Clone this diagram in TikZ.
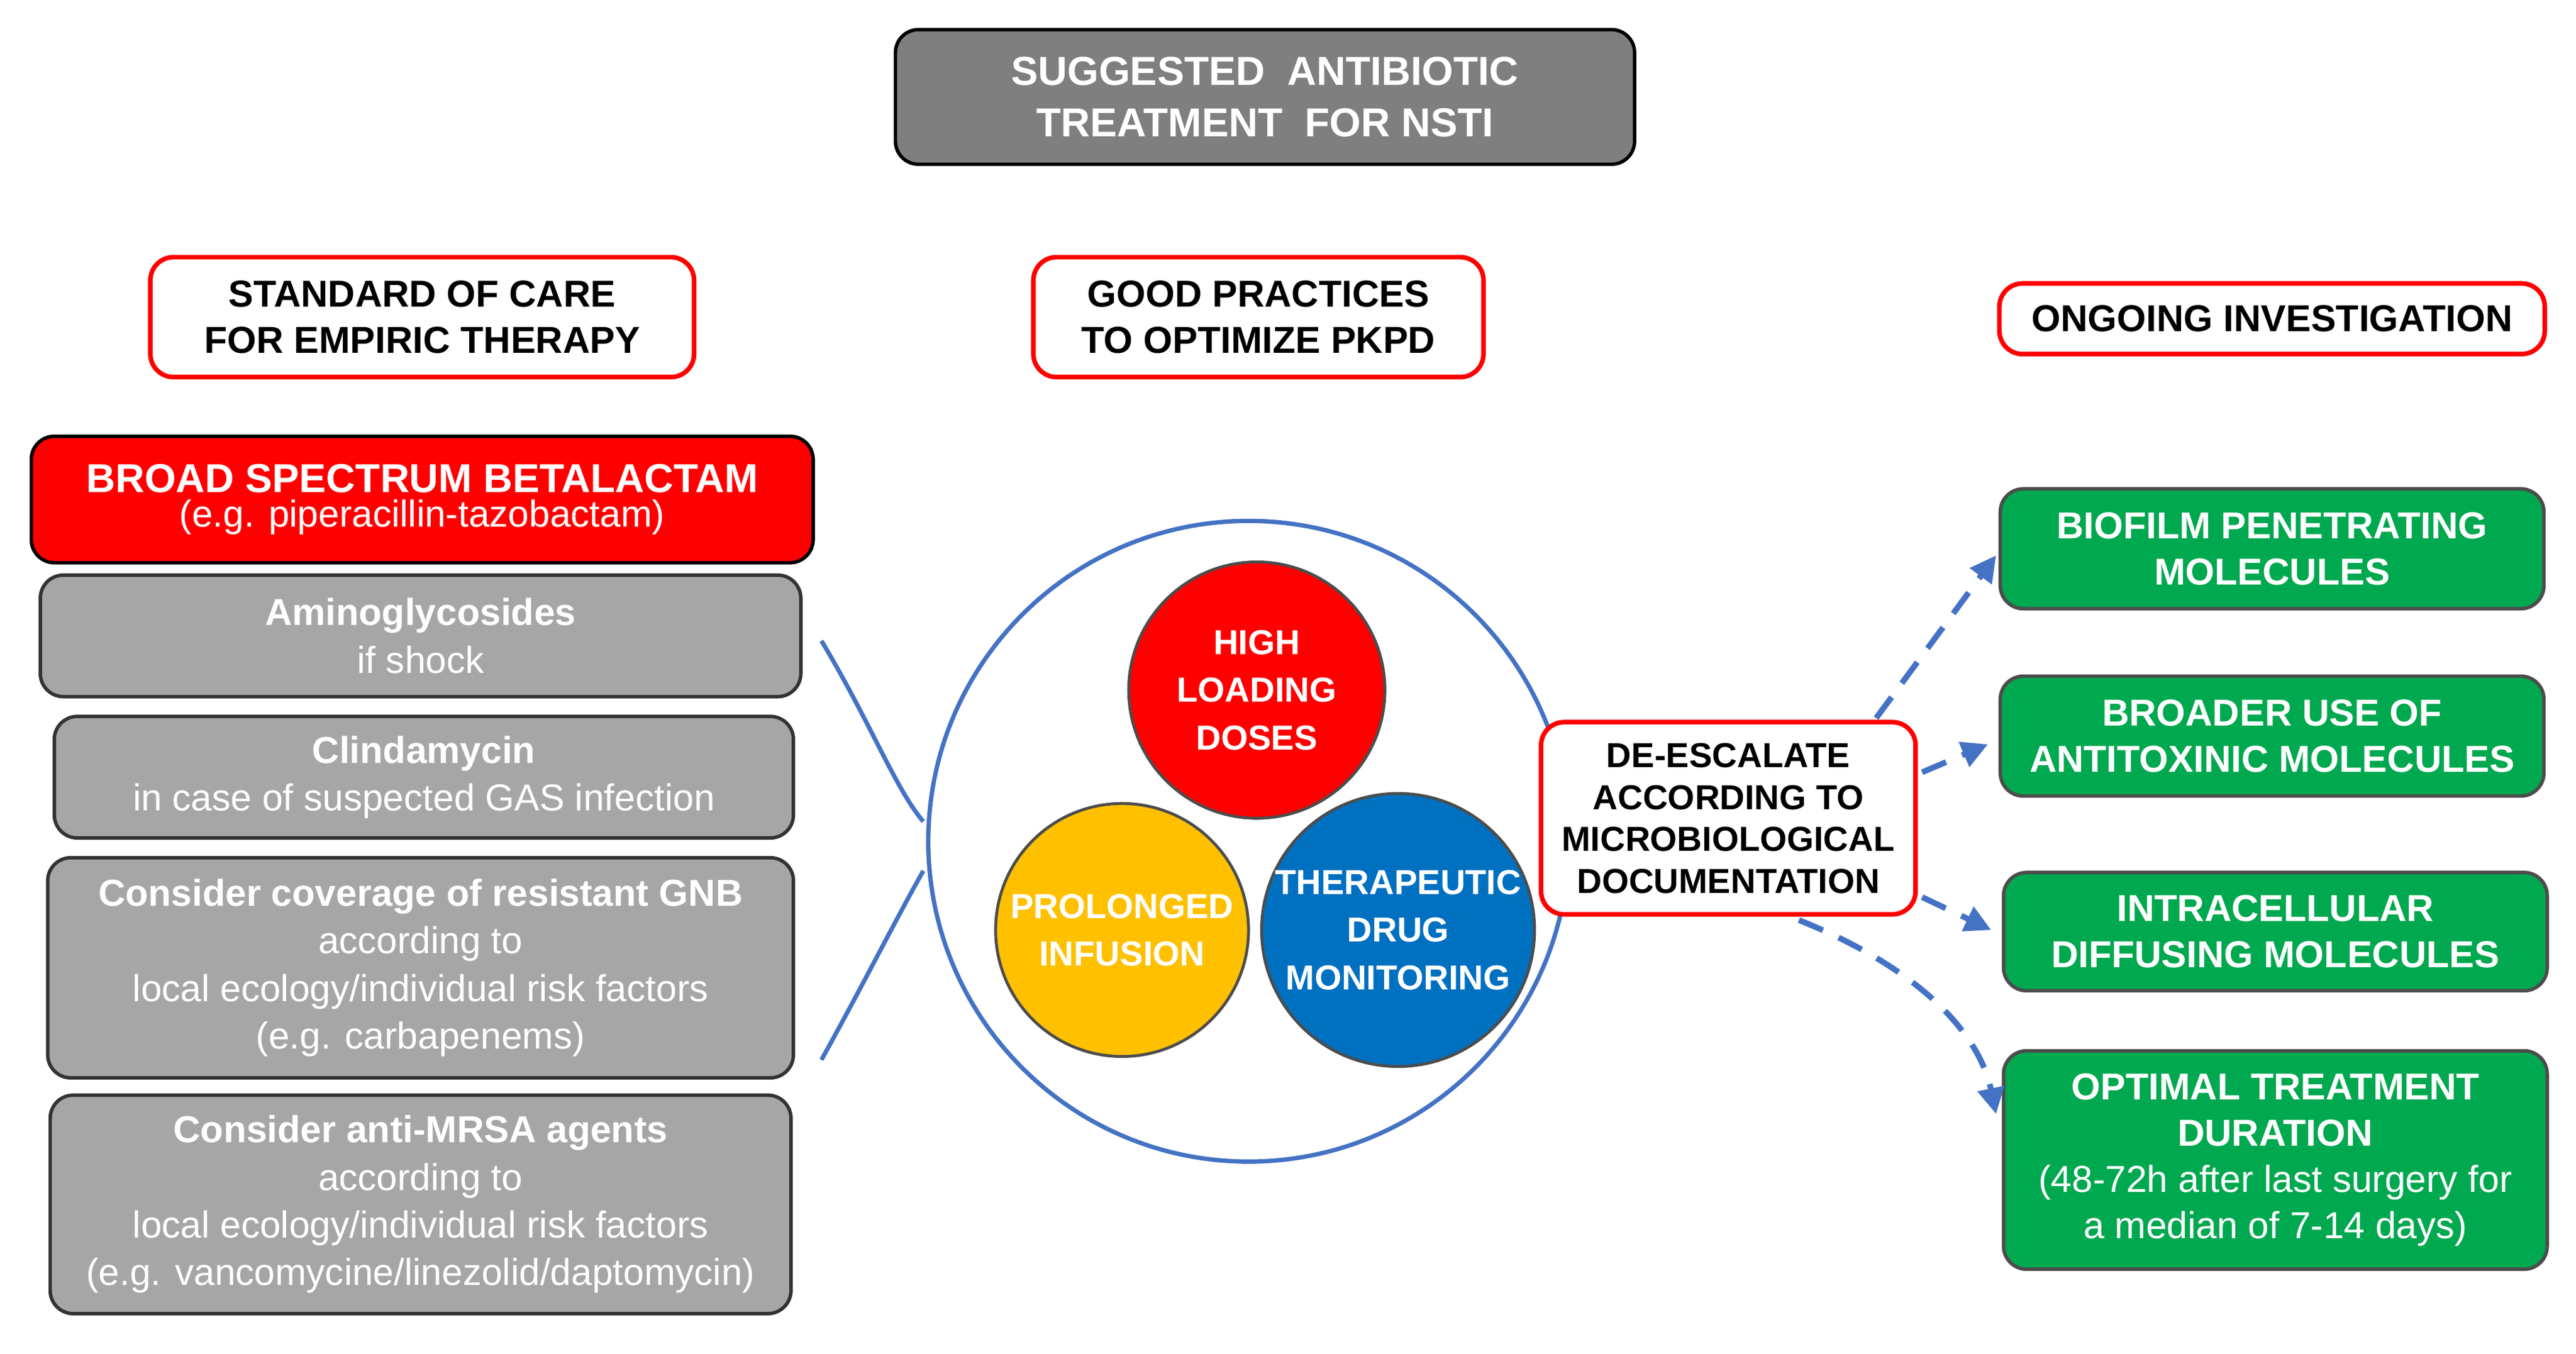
\documentclass[tikz,border=0pt]{standalone}
\usepackage{fontspec}
\setmainfont{Liberation Sans}
\usetikzlibrary{arrows.meta}
\definecolor{gbox}{HTML}{A6A6A6}
\definecolor{tbox}{HTML}{7F7F7F}
\definecolor{rbox}{HTML}{FF0000}
\definecolor{grn}{HTML}{00A84F}
\definecolor{bl}{HTML}{4472C4}
\definecolor{ylw}{HTML}{FFC000}
\definecolor{dblue}{HTML}{0070C0}
\begin{document}
\begin{tikzpicture}[x=0.02cm,y=-0.02cm,
 box/.style={rounded corners=8pt,line width=1.2pt,align=center,inner sep=0pt},
 hdr/.style={box,draw=rbox,fill=white,line width=1.6pt,font=\bfseries\fontsize{13}{16}\selectfont},
 gry/.style={box,draw=black!80,fill=gbox,text=white,font=\fontsize{13}{16.5}\selectfont},
 gr/.style={box,draw=black!70,fill=grn,text=white,font=\bfseries\fontsize{13}{16}\selectfont},
 circ/.style={circle,draw=black!70,line width=1pt,align=center,font=\bfseries\fontsize{12}{16.5}\selectfont,inner sep=0pt},
 arr/.style={draw=bl,line width=2pt,dash pattern=on 9pt off 6pt,-{Triangle[length=9pt,width=9pt]}}]
\useasboundingbox (0,0) rectangle (1568,824);
\node[box,draw=black,fill=tbox,text=white,font=\bfseries\fontsize{14}{18}\selectfont,minimum width=450\pgflinewidth] (title) at (770,59) [minimum width=9cm,minimum height=1.64cm] {SUGGESTED\ \ ANTIBIOTIC\\TREATMENT\ \ FOR NSTI};
\node[hdr,minimum width=6.62cm,minimum height=1.46cm] (h1) at (257,193) {STANDARD OF CARE\\FOR EMPIRIC THERAPY};
\node[hdr,minimum width=5.48cm,minimum height=1.46cm] (h2) at (766,193) {GOOD PRACTICES\\TO OPTIMIZE PKPD};
\node[hdr,minimum width=6.64cm,minimum height=0.86cm] (h3) at (1383,194) {ONGOING INVESTIGATION};
\node[box,draw=black,fill=rbox,text=white,minimum width=9.52cm,minimum height=1.54cm] (bl) at (257,304) {{\bfseries\fontsize{14}{17}\selectfont BROAD\ SPECTRUM\ BETALACTAM}\\{\fontsize{13}{16}\selectfont (e.g. piperacillin-tazobactam)}};
\node[gry,minimum width=9.26cm,minimum height=1.48cm] (ag) at (256,387) {\textbf{Aminoglycosides}\\if shock};
\node[gry,minimum width=9.0cm,minimum height=1.48cm] (cl) at (258,473) {\textbf{Clindamycin}\\in case of suspected GAS infection};
\node[gry,minimum width=9.08cm,minimum height=2.68cm] (gnb) at (256,589) {\textbf{Consider coverage of resistant GNB}\\according to\\local ecology/individual risk factors\\(e.g. carbapenems)};
\node[gry,minimum width=9.02cm,minimum height=2.66cm] (mr) at (256,733) {\textbf{Consider anti-MRSA agents}\\according to\\local ecology/individual risk factors\\(e.g. vancomycine/linezolid/daptomycin)};
\node[circle,draw=bl,line width=1.5pt,minimum size=7.8cm] (big) at (760,512) {};
\draw[bl,line width=1.5pt] (500,390) .. controls (530,440) and (545,480) .. (562,500);
\draw[bl,line width=1.5pt] (562,530) .. controls (545,560) and (525,600) .. (500,645);
\node[circ,fill=rbox,text=white,minimum size=3.12cm] (c1) at (765,420) {HIGH\\LOADING\\DOSES};
\node[circ,fill=ylw,text=white,minimum size=3.08cm] (c2) at (683,566) {PROLONGED\\INFUSION};
\node[circ,fill=dblue,text=white,minimum size=3.12cm] (c3) at (851,566) {THERAPEUTIC\\DRUG\\MONITORING};
\node[box,draw=rbox,fill=white,line width=1.6pt,font=\bfseries\fontsize{12}{14.5}\selectfont,minimum width=4.56cm,minimum height=2.34cm] (de) at (1052,498) {DE-ESCALATE\\ACCORDING TO\\MICROBIOLOGICAL\\DOCUMENTATION};
\node[gr,minimum width=6.62cm,minimum height=1.46cm] (g1) at (1383,334) {BIOFILM PENETRATING\\MOLECULES};
\node[gr,minimum width=6.62cm,minimum height=1.46cm] (g2) at (1383,448) {BROADER USE OF\\ANTITOXINIC MOLECULES};
\node[gr,minimum width=6.62cm,minimum height=1.44cm] (g3) at (1385,567) {INTRACELLULAR\\DIFFUSING MOLECULES};
\node[gr,minimum width=6.62cm,minimum height=2.66cm] (g4) at (1385,706) {OPTIMAL TREATMENT\\DURATION\\{\mdseries(48-72h after last surgery for}\\{\mdseries a median of 7-14 days)}};
\coordinate (a1) at (1215,338); \coordinate (a2) at (1210,453);
\coordinate (a3) at (1212,566); \coordinate (a4) at (1215,678);
\draw[arr] (1142,437) -- (a1);
\draw[arr] (1170,470) -- (a2);
\draw[arr] (1170,546) -- (a3);
\draw[arr] (1095,560) .. controls (1170,590) and (1205,630) .. (a4);
\end{tikzpicture}
\end{document}
